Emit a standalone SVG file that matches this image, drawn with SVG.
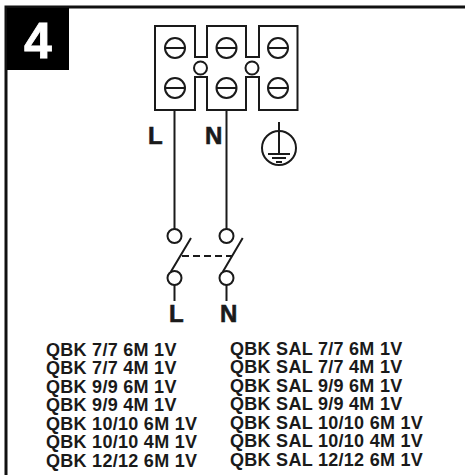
<svg xmlns="http://www.w3.org/2000/svg" width="465" height="475" viewBox="0 0 465 475">
<style>
.l{fill:none;stroke:#1a1a1a;stroke-width:2}
.t{font-family:"Liberation Sans",Arial,sans-serif;font-weight:700;fill:#1a1a1a}
.m{font-size:18px;letter-spacing:.28px}
.b{font-size:24px;stroke:#1a1a1a;stroke-width:.6}
</style>
<rect width="465" height="475" fill="#fff"/>
<g id="frame"><path d="M465 7H6V475" fill="none" stroke="#111" stroke-width="3"/></g>
<g id="badge"><rect x="7" y="8" width="62" height="62" fill="#000"/><text x="38" y="58" text-anchor="middle" class="t" font-size="50" style="fill:#fff;stroke:#fff;stroke-width:.8">4</text></g>
<g id="terminal-block">
<path class="l" d="M155 26H195V57H207V26H246V57H259V26H297.500V110H259V77H246V110H207V77H195V110H155Z"/>
<g id="screws">
<circle class="l" cx="175" cy="48" r="10"/><path class="l" d="M165 48H185"/>
<circle class="l" cx="226.500" cy="48" r="10"/><path class="l" d="M216.500 48H236.500"/>
<circle class="l" cx="278" cy="48" r="10"/><path class="l" d="M268 48H288"/>
<circle class="l" cx="175" cy="88" r="10"/><path class="l" d="M165 88H185"/>
<circle class="l" cx="226.500" cy="88" r="10"/><path class="l" d="M216.500 88H236.500"/>
<circle class="l" cx="278" cy="88" r="10"/><path class="l" d="M268 88H288"/>
</g>
<circle class="l" cx="200.500" cy="68" r="6.500"/><circle class="l" cx="252" cy="68" r="6.500"/>
</g>
<g id="connectors">
<path class="l" d="M174.500 110V229M226.500 110V229M174.500 285V301M226.500 285V301"/>
</g>
<g id="earth">
<circle class="l" cx="279" cy="148" r="17"/>
<path class="l" d="M279 122V154M268 154H290M272 158H286M276 162H282"/>
</g>
<g id="switch">
<circle class="l" cx="174.500" cy="236" r="7"/><circle class="l" cx="226.500" cy="236" r="7"/>
<circle class="l" cx="174.500" cy="278" r="7"/><circle class="l" cx="226.500" cy="278" r="7"/>
<path class="l" d="M170.700 272L191 238M222.700 272L242.700 238"/>
<path class="l" d="M182 256H232" stroke-dasharray="7 4"/>
</g>
<g id="labels">
<text class="t b" x="148" y="144">L</text><text class="t b" x="205" y="144">N</text>
<text class="t b" x="169" y="322">L</text><text class="t b" x="220" y="322">N</text>
</g>
<g id="models-left" class="t m">
<text x="46" y="355.500">QBK 7/7 6M 1V</text>
<text x="46" y="374">QBK 7/7 4M 1V</text>
<text x="46" y="392.500">QBK 9/9 6M 1V</text>
<text x="46" y="411">QBK 9/9 4M 1V</text>
<text x="46" y="429.500">QBK 10/10 6M 1V</text>
<text x="46" y="448">QBK 10/10 4M 1V</text>
<text x="46" y="466.500">QBK 12/12 6M 1V</text>
</g>
<g id="models-right" class="t m">
<text x="230" y="354.500">QBK SAL 7/7 6M 1V</text>
<text x="230" y="373">QBK SAL 7/7 4M 1V</text>
<text x="230" y="391.500">QBK SAL 9/9 6M 1V</text>
<text x="230" y="410">QBK SAL 9/9 4M 1V</text>
<text x="230" y="428.500">QBK SAL 10/10 6M 1V</text>
<text x="230" y="447">QBK SAL 10/10 4M 1V</text>
<text x="230" y="465.500">QBK SAL 12/12 6M 1V</text>
</g>
</svg>
